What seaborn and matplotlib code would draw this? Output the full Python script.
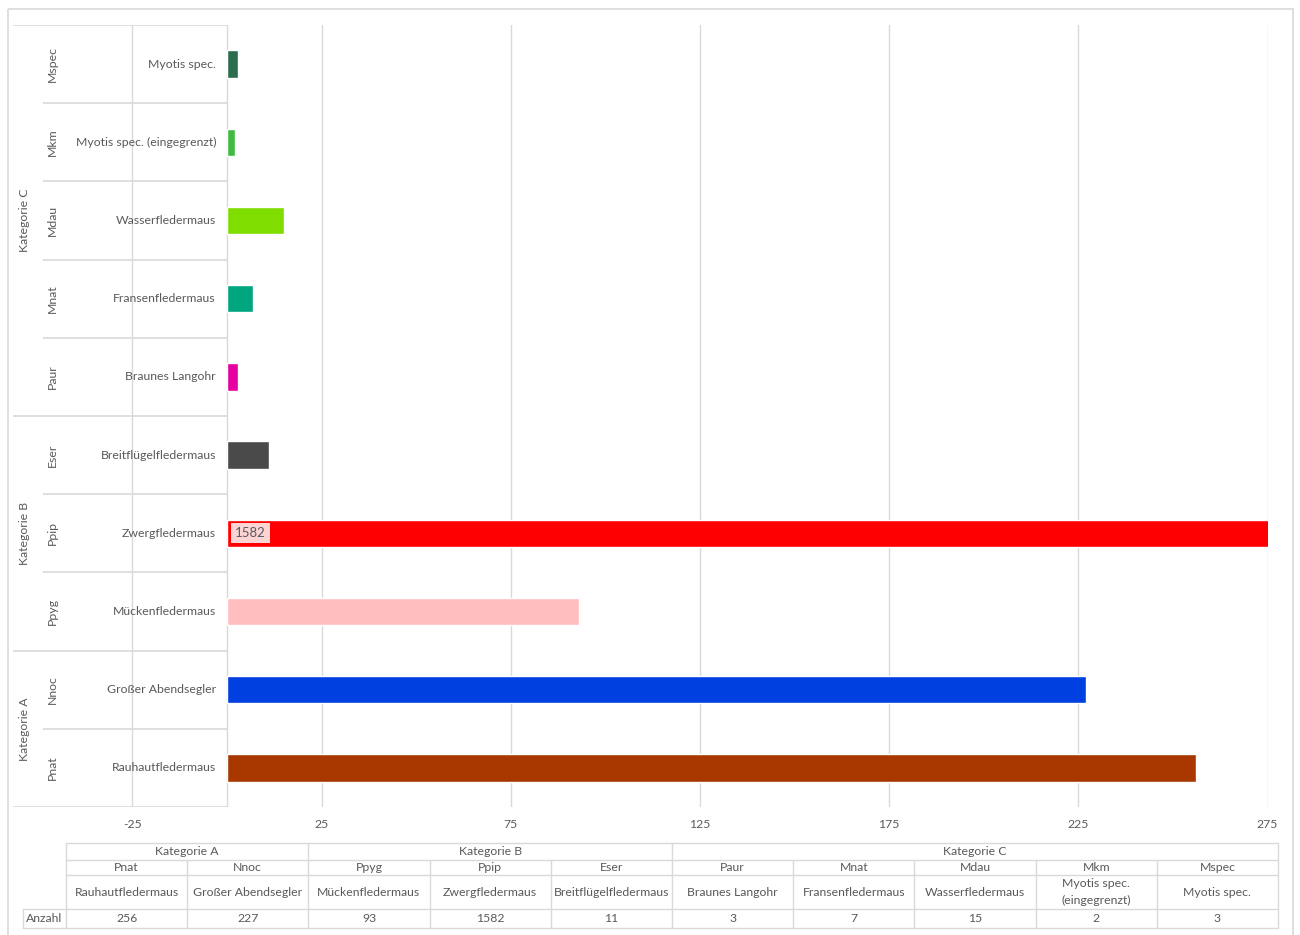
import numpy as np
import pandas as pd
import matplotlib
matplotlib.use("Agg")
import matplotlib.pyplot as plt
import seaborn as sns

# data, in table order (Kategorie A -> C)
groups = ["Kategorie A", "Kategorie A", "Kategorie B", "Kategorie B", "Kategorie B",
          "Kategorie C", "Kategorie C", "Kategorie C", "Kategorie C", "Kategorie C"]
codes = ["Pnat", "Nnoc", "Ppyg", "Ppip", "Eser", "Paur", "Mnat", "Mdau", "Mkm", "Mspec"]
names = ["Rauhautfledermaus", "Großer Abendsegler", "Mückenfledermaus", "Zwergfledermaus",
         "Breitflügelfledermaus", "Braunes Langohr", "Fransenfledermaus", "Wasserfledermaus",
         "Myotis spec. (eingegrenzt)", "Myotis spec."]
counts = [256, 227, 93, 1582, 11, 3, 7, 15, 2, 3]
bar_colors = ["#A83800", "#003FE0", "#FFBFBF", "#FF0000", "#4A4A4A",
              "#E600A0", "#00A680", "#80DD00", "#40BA40", "#2A6E4E"]
xticks = [-25, 25, 75, 125, 175, 225, 275]

df = pd.DataFrame({"Kategorie": groups, "Code": codes, "Art": names, "Anzahl": counts})

W, H = 1300, 935
txt = "#595959"
grid = "#D9D9D9"

sns.set_style("white")
plt.rcParams["font.family"] = ["Lato", "DejaVu Sans"]
plt.rcParams["font.size"] = 8.8

fig = plt.figure(figsize=(W / 100, H / 100), dpi=100)

# plot area in pixel terms: value 0 at x=227, 275 at x=1267.5
ppu = (1267.5 - 227) / 275
def px(p):
    return (p - 227) / ppu

ax = fig.add_axes([12 / W, 128 / H, (1268 - 12) / W, 782 / H])
order = codes[::-1]
sns.barplot(data=df, x="Anzahl", y="Code", hue="Code", order=order, hue_order=codes,
            palette=bar_colors, legend=False, width=0.35, saturation=1, ax=ax)

ax.set_xlim(px(12), px(1268))
ax.set_ylim(len(codes) - 0.5, -0.5)
ax.set_xticks(xticks)
ax.set_xticklabels([str(t) for t in xticks], color=txt)
ax.tick_params(axis="x", length=0, pad=9)
ax.set_yticks([])
ax.set_xlabel("")
ax.set_ylabel("")
for s in ax.spines.values():
    s.set_visible(False)
ax.grid(axis="x", color=grid, lw=1)
ax.set_axisbelow(True)
ax.axvline(0, color=grid, lw=1, zorder=0.5)

# category labels inside the negative region
for i, c in enumerate(order):
    row = df[df.Code == c].iloc[0]
    ax.text(px(216), i, row.Art, ha="right", va="center", color=txt)
    ax.text(px(52), i, c, ha="center", va="center", rotation=90, color=txt)

# separators between rows / groups
grp_order = [df[df.Code == c].Kategorie.iloc[0] for c in order]
for i in range(len(order) + 1):
    y = i - 0.5
    is_group = i == 0 or i == len(order) or grp_order[i - 1] != grp_order[i]
    ax.hlines(y, px(13) if is_group else px(43), 0, color=grid, lw=1.2, zorder=0.6)

for g in dict.fromkeys(grp_order):
    idx = [i for i, gg in enumerate(grp_order) if gg == g]
    ax.text(px(24), np.mean(idx), g, ha="center", va="center", rotation=90, color=txt)

# label for bars clipped by the axis
xmax = ax.get_xlim()[1]
for i, c in enumerate(order):
    v = df[df.Code == c].Anzahl.iloc[0]
    if v > xmax:
        ax.annotate(str(v), xy=(0, i), xytext=(8, 0), textcoords="offset pixels",
                    ha="left", va="center", color=txt, fontsize=9.5,
                    bbox=dict(boxstyle="square,pad=0.3", fc="#FDD4D4", ec="none"))

# data table below the chart
tab = fig.add_axes([0, 0, 1, 1])
tab.set_xlim(0, W)
tab.set_ylim(H, 0)
tab.axis("off")
tab.patch.set_visible(False)

cx = np.linspace(66, 1278, len(codes) + 1)
ry = [843, 860, 875, 909, 928]
lw = 1
for y in ry[:3]:
    tab.plot([cx[0], cx[-1]], [y, y], color=grid, lw=lw)
for y in ry[3:]:
    tab.plot([23, cx[-1]], [y, y], color=grid, lw=lw)
tab.plot([23, 23], [ry[3], ry[4]], color=grid, lw=lw)
for j, x in enumerate(cx):
    boundary = j == 0 or j == len(codes) or groups[j - 1] != groups[j]
    tab.plot([x, x], [ry[0] if boundary else ry[1], ry[4]], color=grid, lw=lw)

for g in dict.fromkeys(groups):
    idx = [j for j, gg in enumerate(groups) if gg == g]
    tab.text((cx[idx[0]] + cx[idx[-1] + 1]) / 2, (ry[0] + ry[1]) / 2, g,
             ha="center", va="center", color=txt)
for j in range(len(codes)):
    xc = (cx[j] + cx[j + 1]) / 2
    tab.text(xc, (ry[1] + ry[2]) / 2, codes[j], ha="center", va="center", color=txt)
    name = names[j].replace(" (", "\n(")
    tab.text(xc, (ry[2] + ry[3]) / 2, name, ha="center", va="center", color=txt,
             linespacing=1.55)
    tab.text(xc, (ry[3] + ry[4]) / 2, str(counts[j]), ha="center", va="center", color=txt)
tab.text(44.5, (ry[3] + ry[4]) / 2, "Anzahl", ha="center", va="center", color=txt)

# chart frame
tab.add_patch(plt.Rectangle((8, 9), 1285, 940, fill=False, ec=grid, lw=1.2))

fig.savefig("out.png", dpi=100)
